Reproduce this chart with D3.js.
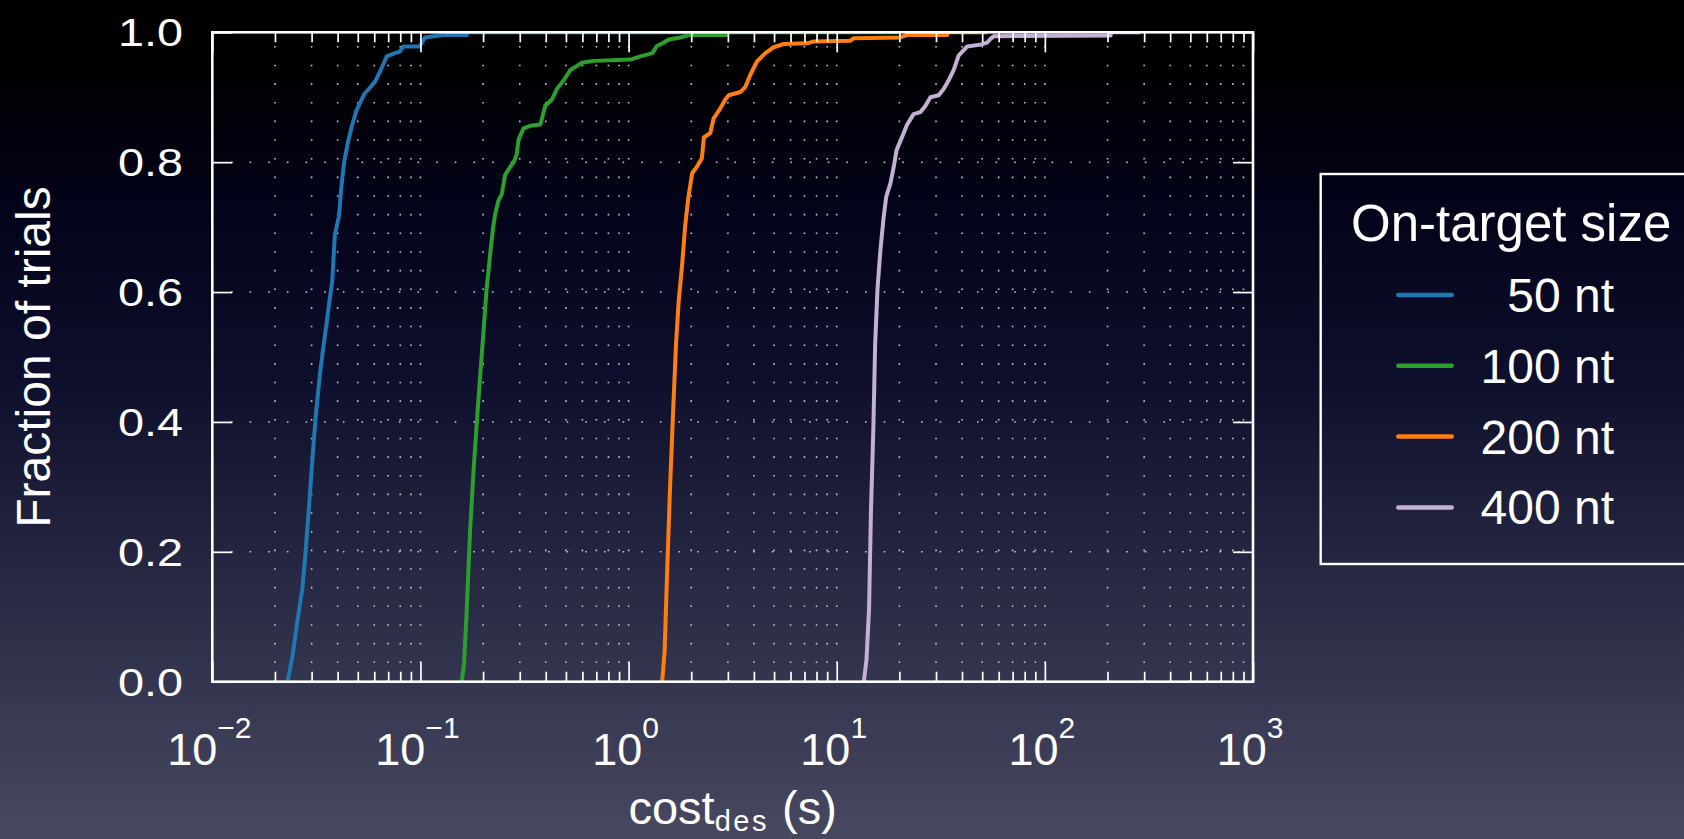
<!DOCTYPE html>
<html>
<head>
<meta charset="utf-8">
<script src="https://cdn.jsdelivr.net/npm/d3@7"></script>
<style>
  html, body { margin: 0; padding: 0; background: #000; }
  svg { display: block; }
  text { font-family: "Liberation Sans", Arial, Helvetica, sans-serif; fill: #fff; }
</style>
</head>
<body>
<svg id="chart" width="1684" height="839"></svg>
<script>
// ---- data: empirical CDFs of design cost, one per on-target size ----
const seriesNames = ["50 nt", "100 nt", "200 nt", "400 nt"];
const seriesColors = ["#1f77b4", "#2ca02c", "#ff7f0e", "#c5b0d5"];

const cost50 = [0.0230, 0.0243, 0.0256, 0.0271, 0.0281, 0.0292, 0.0303, 0.0314, 0.0329, 0.0341,
  0.0354, 0.0367, 0.0377, 0.0388, 0.0406, 0.0416, 0.0429, 0.0448, 0.0466, 0.0492, 0.0514, 0.0537,
  0.0573, 0.0605, 0.0640, 0.0689, 0.0753, 0.0796, 0.0826, 0.0991, 0.105, 0.129, 0.167, 0.167, 1.91];
const frac50 = [0, 0.040, 0.092, 0.144, 0.202, 0.273, 0.345, 0.409, 0.474, 0.513,
  0.552, 0.591, 0.617, 0.688, 0.717, 0.759, 0.798, 0.830, 0.853, 0.879, 0.892, 0.905,
  0.915, 0.924, 0.940, 0.963, 0.968, 0.970, 0.978, 0.978, 0.992, 0.996, 0.996, 1.0, 1.0];

const cost100 = [0.158, 0.162, 0.167, 0.173, 0.180, 0.187, 0.194, 0.201, 0.208, 0.216, 0.224,
  0.229, 0.237, 0.246, 0.255, 0.270, 0.280, 0.290, 0.296, 0.313, 0.337, 0.377, 0.398, 0.429,
  0.453, 0.488, 0.525, 0.597, 0.679, 1.02, 1.14, 1.30, 1.37, 1.47, 1.56, 1.77, 1.98, 2.98, 2.98, 20.2];
const frac100 = [0, 0.028, 0.112, 0.229, 0.326, 0.404, 0.475, 0.540, 0.605, 0.657, 0.702,
  0.721, 0.741, 0.751, 0.780, 0.793, 0.799, 0.812, 0.835, 0.852, 0.856, 0.858, 0.887, 0.897,
  0.913, 0.926, 0.942, 0.953, 0.956, 0.958, 0.963, 0.968, 0.979, 0.984, 0.989, 0.992, 0.996, 0.996, 1.0, 1.0];

const cost200 = [1.45, 1.49, 1.53, 1.58, 1.64, 1.69, 1.74, 1.81, 1.87, 1.94, 2.02, 2.13, 2.25,
  2.30, 2.47, 2.56, 2.76, 2.92, 3.03, 3.44, 3.64, 3.85, 4.14, 4.54, 4.98, 5.56, 7.21, 7.76,
  11.6, 12.1, 20.2, 21.8, 34.0, 34.0, 53.0];
const frac200 = [0, 0.047, 0.164, 0.294, 0.423, 0.520, 0.585, 0.644, 0.702, 0.747, 0.783, 0.793, 0.806,
  0.838, 0.845, 0.867, 0.883, 0.897, 0.903, 0.908, 0.916, 0.935, 0.955, 0.968, 0.977, 0.982, 0.983, 0.986,
  0.987, 0.991, 0.992, 0.996, 0.996, 1.0, 1.0];

const cost400 = [13.5, 13.9, 14.3, 14.6, 15.0, 15.3, 15.7, 16.2, 16.8, 17.3, 18.1, 18.8, 19.4,
  20.2, 21.8, 23.4, 25.2, 26.7, 28.2, 30.9, 32.7, 34.5, 36.5, 38.5, 42.3, 49.1, 52.8, 54.8,
  56.9, 207, 207, 288];
const frac400 = [0, 0.034, 0.112, 0.261, 0.391, 0.520, 0.605, 0.663, 0.715, 0.747, 0.767, 0.793, 0.819,
  0.832, 0.858, 0.874, 0.877, 0.887, 0.900, 0.903, 0.913, 0.926, 0.942, 0.964, 0.978, 0.981, 0.984, 0.990,
  0.994, 0.995, 1.0, 1.0];

const seriesCosts = [cost50, cost100, cost200, cost400];
const seriesFracs = [frac50, frac100, frac200, frac400];

const xDomain = [1e-2, 1e3];
const yTickValues = [0, 0.2, 0.4, 0.6, 0.8, 1.0];
const xMajorExponents = [-2, -1, 0, 1, 2, 3];
const legendTitle = "On-target size";
const yAxisTitle = "Fraction of trials";

// ---- layout ----
const W = 1684, H = 839;
const plot = { left: 212.3, right: 1253, top: 32.3, bottom: 681.7 };

const svg = d3.select("#chart");
const defs = svg.append("defs");

const grad = defs.append("linearGradient")
  .attr("id", "bg").attr("x1", 0).attr("y1", 0).attr("x2", 0).attr("y2", 1);
[[0, "#000000"], [0.07, "#000000"], [0.25, "#03031a"], [0.45, "#0e0f2c"],
 [0.65, "#23243f"], [0.82, "#353650"], [1, "#48495f"]]
  .forEach(([o, c]) => grad.append("stop").attr("offset", o).attr("stop-color", c));
svg.append("rect").attr("width", W).attr("height", H).attr("fill", "url(#bg)");

defs.append("clipPath").attr("id", "plotClip")
  .append("rect")
  .attr("x", plot.left).attr("y", plot.top)
  .attr("width", plot.right - plot.left).attr("height", plot.bottom - plot.top);

const x = d3.scaleLog().domain(xDomain).range([plot.left, plot.right]);
const y = d3.scaleLinear().domain([0, 1]).range([plot.bottom, plot.top]);

const allXTicks = x.ticks();          // 1..9 x 10^k per decade
const isMajor = v => Math.abs(Math.log10(v) - Math.round(Math.log10(v))) < 1e-9;
const minorXTicks = allXTicks.filter(v => !isMajor(v));
const majorXTicks = allXTicks.filter(isMajor);

// ---- dotted grid ----
const grid = svg.append("g").attr("class", "grid")
  .attr("stroke", "#c8c8c8").attr("stroke-width", 1.6)
  .attr("stroke-dasharray", "1.6,17.05").attr("fill", "none");

grid.selectAll("line.vx").data(allXTicks.filter(v => v > xDomain[0] && v < xDomain[1]))
  .join("line").attr("class", "vx")
  .attr("x1", d => x(d)).attr("x2", d => x(d))
  .attr("y1", plot.bottom).attr("y2", plot.top);

grid.selectAll("line.hy").data(yTickValues.filter(v => v > 0 && v < 1))
  .join("line").attr("class", "hy")
  .attr("x1", plot.left).attr("x2", plot.right)
  .attr("y1", d => y(d)).attr("y2", d => y(d));

// ---- CDF curves ----
const line = d3.line().x(d => x(d[0])).y(d => y(d[1]));
const curves = svg.append("g").attr("clip-path", "url(#plotClip)");
seriesCosts.forEach((costs, i) => {
  const pts = costs.map((c, j) => [c, seriesFracs[i][j]]);
  curves.append("path")
    .datum(pts)
    .attr("d", line)
    .attr("fill", "none")
    .attr("stroke", seriesColors[i])
    .attr("stroke-width", 4)
    .attr("stroke-linejoin", "round");
});

// ---- axes (inward ticks on all four sides) ----
function styleAxis(g) {
  g.select(".domain").remove();
  g.selectAll(".tick line").attr("stroke", "#fff").attr("stroke-width", 1.7);
  g.selectAll(".tick text").remove();
}
svg.append("g").attr("transform", `translate(0,${plot.bottom})`)
  .call(d3.axisBottom(x).tickValues(majorXTicks).tickSize(-20)).call(styleAxis);
svg.append("g").attr("transform", `translate(0,${plot.bottom})`)
  .call(d3.axisBottom(x).tickValues(minorXTicks).tickSize(-10)).call(styleAxis);
svg.append("g").attr("transform", `translate(0,${plot.top})`)
  .call(d3.axisTop(x).tickValues(majorXTicks).tickSize(-20)).call(styleAxis);
svg.append("g").attr("transform", `translate(0,${plot.top})`)
  .call(d3.axisTop(x).tickValues(minorXTicks).tickSize(-10)).call(styleAxis);
svg.append("g").attr("transform", `translate(${plot.left},0)`)
  .call(d3.axisLeft(y).tickValues(yTickValues).tickSize(-20)).call(styleAxis);
svg.append("g").attr("transform", `translate(${plot.right},0)`)
  .call(d3.axisRight(y).tickValues(yTickValues).tickSize(-20)).call(styleAxis);

// frame
svg.append("rect")
  .attr("x", plot.left).attr("y", plot.top)
  .attr("width", plot.right - plot.left).attr("height", plot.bottom - plot.top)
  .attr("fill", "none").attr("stroke", "#fff").attr("stroke-width", 2.6);

// ---- tick labels ----
const fmtY = d3.format(".1f");
svg.append("g").selectAll("text").data(yTickValues).join("text")
  .attr("x", 183).attr("y", d => y(d))
  .attr("dy", "0.36em")
  .attr("text-anchor", "end")
  .attr("font-size", 39)
  .attr("transform", `translate(183,0) scale(1.2,1) translate(-183,0)`)
  .text(d => fmtY(d));

const xl = svg.append("g").selectAll("text").data(xMajorExponents).join("text")
  .attr("x", d => x(Math.pow(10, d)) - 3)
  .attr("y", 765)
  .attr("text-anchor", "middle")
  .attr("font-size", 45);
xl.append("tspan").text("10");
xl.append("tspan").attr("dy", -27).attr("font-size", 30)
  .text(d => d < 0 ? "\u2212" + Math.abs(d) : String(d));

// ---- axis titles ----
svg.append("text")
  .attr("transform", `translate(50,${(plot.top + plot.bottom) / 2}) rotate(-90)`)
  .attr("text-anchor", "middle")
  .attr("font-size", 48)
  .text(yAxisTitle);

const xt = svg.append("text")
  .attr("x", (plot.left + plot.right) / 2).attr("y", 824)
  .attr("text-anchor", "middle")
  .attr("font-size", 47);
xt.append("tspan").text("cost");
xt.append("tspan").attr("dy", 7).attr("font-size", 29).attr("letter-spacing", 2.5).text("des");
xt.append("tspan").attr("dy", -7).text(" (s)");

// ---- legend ----
const legend = svg.append("g");
legend.append("rect")
  .attr("x", 1320.7).attr("y", 174).attr("width", 400).attr("height", 390)
  .attr("fill", "none").attr("stroke", "#fff").attr("stroke-width", 2.4);
legend.append("text")
  .attr("x", 1351).attr("y", 241)
  .attr("font-size", 51)
  .text(legendTitle);
const rowY = d3.scaleLinear().domain([0, seriesNames.length - 1]).range([0, 212.4]);
seriesNames.forEach((name, i) => {
  const cy = 295 + rowY(i);
  legend.append("line")
    .attr("x1", 1398.3).attr("x2", 1451.7).attr("y1", cy).attr("y2", cy)
    .attr("stroke", seriesColors[i]).attr("stroke-width", 4.5).attr("stroke-linecap", "round");
  legend.append("text")
    .attr("x", 1614).attr("y", cy + 17)
    .attr("text-anchor", "end")
    .attr("font-size", 48)
    .text(name);
});
</script>
</body>
</html>
